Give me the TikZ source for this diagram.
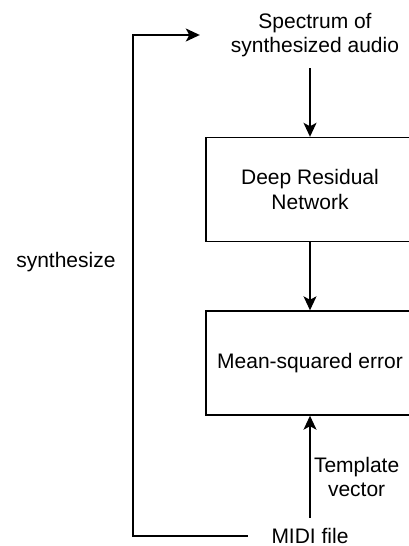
\documentclass[tikz,border=0pt]{standalone}
\usepackage{fontspec}
\setmainfont{Liberation Sans}
\usetikzlibrary{arrows.meta,positioning}

\begin{document}
\begin{tikzpicture}[x=1pt, y=-1pt,
  font=\fontsize{21}{24.5}\selectfont,
  box/.style={draw, line width=1.4pt, minimum width=208pt, minimum height=104pt, align=center},
  plain/.style={align=center, inner sep=0pt},
  arrow/.style={-{Stealth[length=14pt,width=13pt,inset=3.5pt]}, line width=1.4pt}]

\useasboundingbox (0,0) rectangle (408,546);

% Blocks
\node[box] (drn) at (310,189.5) {Deep Residual\\Network};
\node[box] (mse) at (310,363) {Mean-squared error};

% Labels
\node[plain, minimum width=230pt, minimum height=66pt] (spec) at (315,35) {Spectrum of\\synthesized audio};
\node[plain, minimum width=124pt, minimum height=36pt] (midi) at (310,536) {MIDI file};
\coordinate (bend) at (133,262);
\node[left=14pt of bend] (synth) {synthesize};

% Arrows
\draw[arrow] (spec.south -| drn.north) -- (drn.north);
\draw[arrow] (drn) -- (mse);
\draw[arrow] (midi) -- (mse) node[pos=0.4, right, align=center] (tmpl) {Template\\vector};

% Feedback loop
\draw[arrow] (midi.west) -| (bend) |- (spec.west);
\end{tikzpicture}
\end{document}
